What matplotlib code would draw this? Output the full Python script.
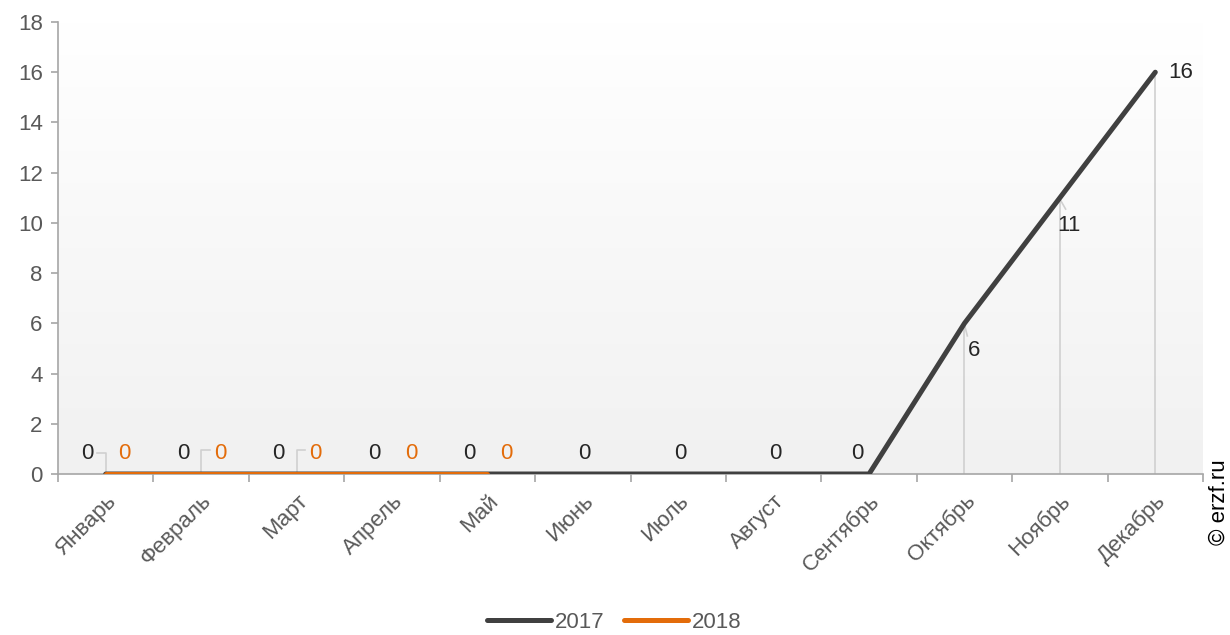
import numpy as np
import matplotlib
matplotlib.use("Agg")
import matplotlib.pyplot as plt
from matplotlib.lines import Line2D

months = ["Январь", "Февраль", "Март", "Апрель", "Май", "Июнь", "Июль",
          "Август", "Сентябрь", "Октябрь", "Ноябрь", "Декабрь"]
values_2017 = [0, 0, 0, 0, 0, 0, 0, 0, 0, 6, 11, 16]
values_2018 = [0, 0, 0, 0, 0]
yticks = [0, 2, 4, 6, 8, 10, 12, 14, 16, 18]

plt.rcParams['font.family'] = ['Liberation Sans', 'DejaVu Sans']

C17 = "#404040"
C18 = "#e36c0a"
GRID = "#a6a6a6"
LEAD = "#d0d0d0"
TXT = "#595959"

fig = plt.figure(figsize=(12.3, 6.35), dpi=100)
ax = fig.add_axes([58/1230, 1-474/635, (1203-58)/1230, (474-22)/635])

x17 = np.arange(len(values_2017))
x18 = np.arange(len(values_2018))

ax.set_xlim(-0.5, 11.5)
ax.set_ylim(0, 18)

# gradient background
grad = np.linspace(0, 1, 256).reshape(-1, 1)
top = np.array([1.0, 1.0, 1.0])
bot = np.array([0.945, 0.945, 0.945])
img = top[None, None, :] * (1 - grad[:, :, None]) + bot[None, None, :] * grad[:, :, None]
ax.imshow(img, extent=[-0.5, 11.5, 0, 18], aspect='auto', origin='upper', zorder=0)

# leader lines for Oct-Dec
for i in [9, 10, 11]:
    ax.plot([x17[i], x17[i]], [0, values_2017[i]], color=LEAD, lw=1.2, zorder=1)
# short diagonal leaders for Oct/Nov labels
ax.plot([x17[9], x17[9] + 0.03], [values_2017[9] - 0.05, values_2017[9] - 0.5], color=LEAD, lw=1.2, zorder=2)
ax.plot([x17[10], x17[10] + 0.06], [values_2017[10] - 0.05, values_2017[10] - 0.45], color=LEAD, lw=1.2, zorder=2)

ax.plot(x17, values_2017, color=C17, lw=3.6, solid_capstyle='round', zorder=3)
ax.plot(x18, values_2018, color=C18, lw=3.6, solid_capstyle='round', zorder=4)

fs = 16
LY = 0.8
# labels
for i, v in enumerate(values_2017):
    if i < 5:
        ax.text(x17[i] - 0.19, LY, str(v), ha='center', va='center', fontsize=fs, color="#262626", zorder=5)
    elif i < 9:
        dx = -0.12 if i == 8 else 0.02
        ax.text(x17[i] + dx, LY, str(v), ha='center', va='center', fontsize=fs, color="#262626", zorder=5)
    elif i == 11:
        ax.text(x17[i] + 0.27, v, str(v), ha='center', va='center', fontsize=fs, color="#262626", zorder=5)
    else:
        ax.text(x17[i] + 0.1, v - 1.1, str(v), ha='center', va='center', fontsize=fs, color="#262626", zorder=5)
for i, v in enumerate(values_2018):
    ax.text(x18[i] + 0.2, LY, str(v), ha='center', va='center', fontsize=fs, color=C18, zorder=5)

# small leader lines for zero labels
ax.plot([x17[0] - 0.09, x17[0], x17[0]], [0.85, 0.85, 0.05], color=LEAD, lw=1.2, zorder=2)
for i in [1, 2]:
    ax.plot([x18[i], x18[i], x18[i] + 0.09], [0.05, 0.95, 0.95], color=LEAD, lw=1.2, zorder=2)

# axes styling
for s in ['top', 'right']:
    ax.spines[s].set_visible(False)
ax.spines['left'].set_color(GRID)
ax.spines['bottom'].set_color(GRID)
ax.spines['left'].set_linewidth(1.2)
ax.spines['bottom'].set_linewidth(1.2)
ax.set_yticks(yticks)
ax.tick_params(axis='y', colors=GRID, labelcolor=TXT, labelsize=fs, length=5, width=1.2, pad=6)
ax.set_xticks(np.arange(-0.5, 12, 1.0))
ax.set_xticklabels([])
ax.tick_params(axis='x', colors=GRID, length=6, width=1.2)
ax.set_xticks(x17, minor=True)
ax.set_xticklabels(months, minor=True, rotation=45, ha='right', va='top', rotation_mode='anchor',
                   fontsize=fs, color=TXT)
ax.tick_params(axis='x', which='minor', length=0, pad=12)
for lbl in ax.get_xticklabels(minor=True):
    lbl.set_x(lbl.get_position()[0])

# legend
handles = [Line2D([], [], color=C17, lw=3.6, solid_capstyle='round'),
           Line2D([], [], color=C18, lw=3.6, solid_capstyle='round')]
fig.legend(handles, ["2017", "2018"], loc='center', bbox_to_anchor=(614/1230, 1-622/635), ncol=2,
           frameon=False, fontsize=fs, handlelength=2.9, handletextpad=0.15, columnspacing=0.9,
           labelcolor=TXT)

fig.text(1219/1230, 1-502/635, "© erzf.ru", rotation=90, ha='center', va='center', fontsize=fs, color="black")

fig.savefig("out.png", dpi=100)
